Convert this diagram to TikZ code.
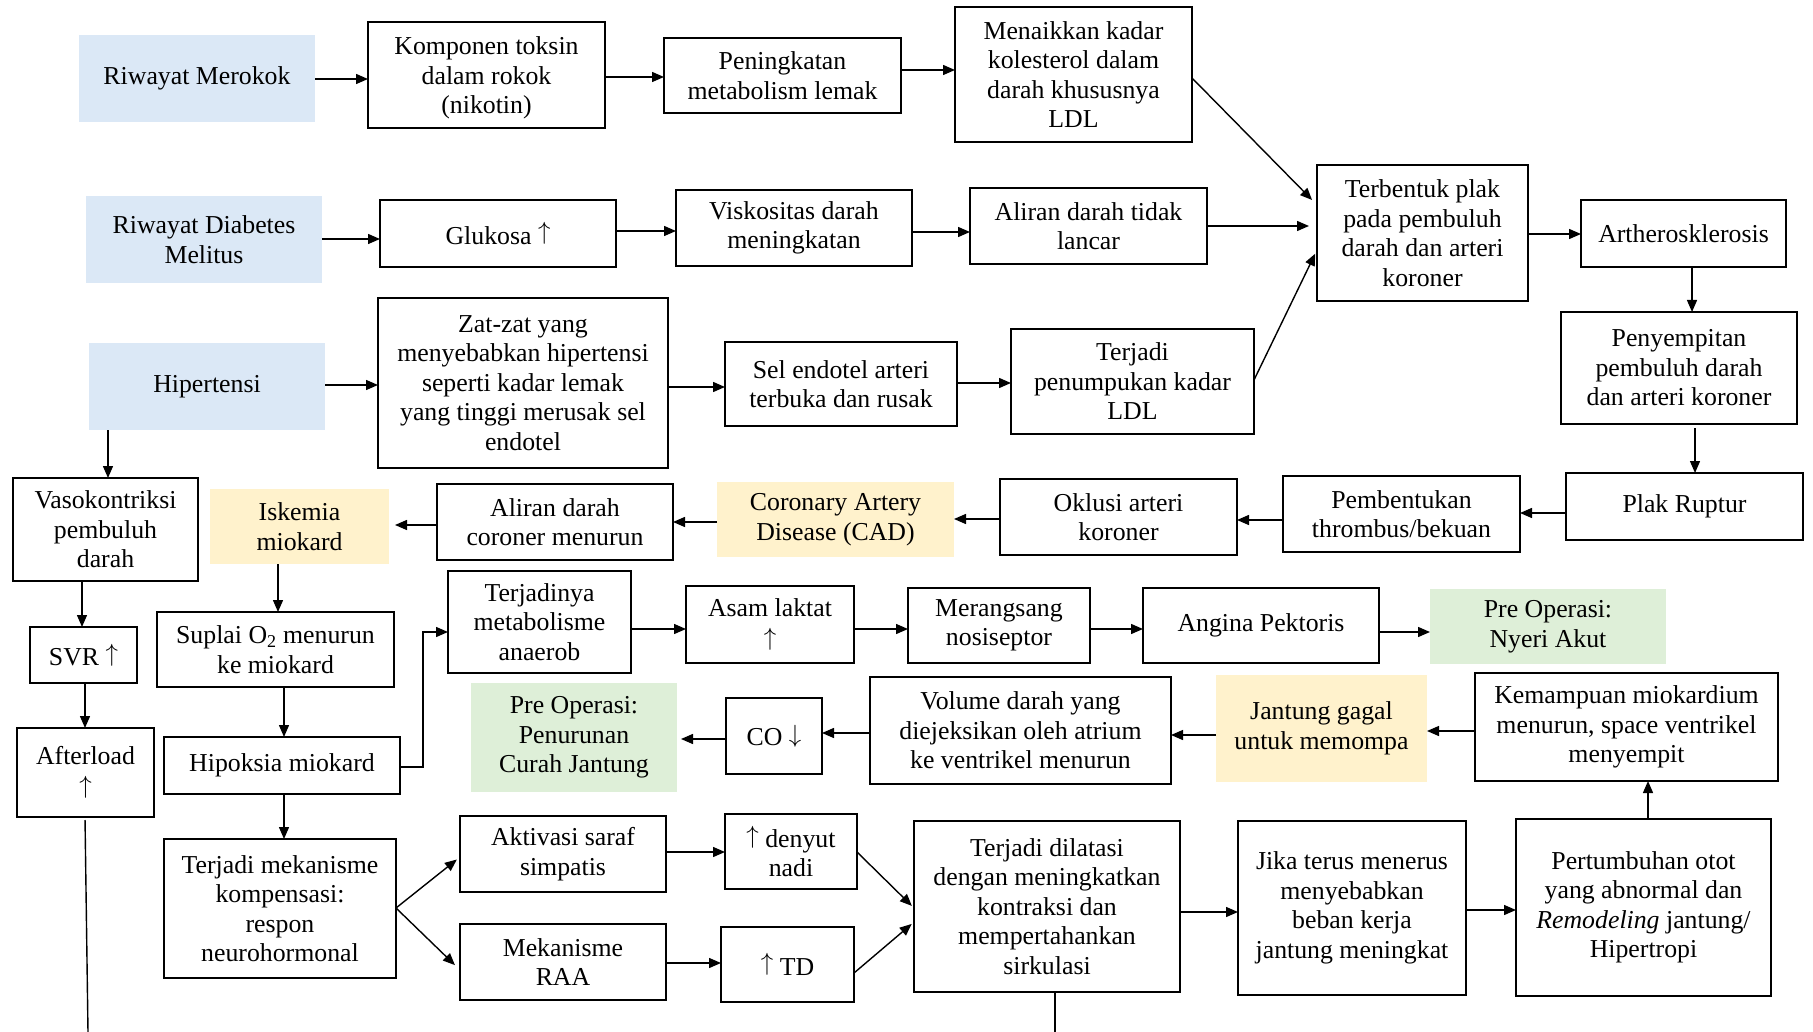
\documentclass[tikz,border=0pt]{standalone}
\usepackage{fontspec}
\setmainfont{Liberation Serif}
\usetikzlibrary{arrows.meta,calc}
\definecolor{riskblue}{HTML}{DBE8F6}
\definecolor{diagyellow}{HTML}{FFF2CC}
\definecolor{nursegreen}{HTML}{DEEFD8}
% thin tall arrows used inside the labels
\newcommand{\uparr}{\raisebox{0.17em}{$\uparrow$}}
\newcommand{\downarr}{\raisebox{0.12em}{$\downarrow$}}
\begin{document}
\begin{tikzpicture}[x=1pt,y=-1pt,
  every node/.style={font=\fontsize{25.8}{29.5}\selectfont, align=center, inner sep=0pt, outer sep=0pt},
  box/.style={draw, line width=1.5pt},
  risk/.style={fill=riskblue},
  diag/.style={fill=diagyellow},
  nurse/.style={fill=nursegreen},
  arr/.style={-{Triangle[length=12pt,width=10pt]}, line width=1.4pt},
  link/.style={line width=1.4pt}]
\useasboundingbox (0,0) rectangle (1813,1032);

% ---- row 1: smoking
\node[risk, minimum width=236pt, minimum height=87pt] (merokok) at (197,78.5) {Riwayat Merokok};
\node[box, minimum width=237pt, minimum height=106pt] (komponen) at (486.5,75) {\rule{0pt}{24pt}Komponen toksin\\dalam rokok\\(nikotin)};
\node[box, minimum width=237pt, minimum height=75pt] (peningkatan) at (782.5,75.5) {Peningkatan\\metabolism lemak};
\node[box, minimum width=237pt, minimum height=135pt] (menaikkan) at (1073.5,74.5) {Menaikkan kadar\\kolesterol dalam\\darah khususnya\\LDL};

% ---- row 2: diabetes
\node[risk, minimum width=236pt, minimum height=87pt] (diabetes) at (204,239.5) {Riwayat Diabetes\\Melitus};
\node[box, minimum width=236pt, minimum height=67pt] (glukosa) at (498,233.5) {Glukosa \uparr};
\node[box, minimum width=236pt, minimum height=76pt] (viskositas) at (794,228) {Viskositas darah\\meningkatan};
\node[box, minimum width=237pt, minimum height=76pt] (aliran) at (1088.5,226) {Aliran darah tidak\\lancar};
\node[box, minimum width=211pt, minimum height=136pt] (terbentuk) at (1422.5,233) {Terbentuk plak\\pada pembuluh\\darah dan arteri\\koroner};
\node[box, minimum width=205pt, minimum height=67pt] (arth) at (1683.5,233.5) {Artherosklerosis};

% ---- row 3: hypertension
\node[risk, minimum width=236pt, minimum height=87pt] (hipertensi) at (207,386.5) {Hipertensi};
\node[box, minimum width=290pt, minimum height=170pt] (zat) at (523,383) {Zat-zat yang\\menyebabkan hipertensi\\seperti kadar lemak\\yang tinggi merusak sel\\endotel};
\node[box, minimum width=232pt, minimum height=84pt] (sel) at (841,384) {Sel endotel arteri\\terbuka dan rusak};
\node[box, minimum width=243pt, minimum height=105pt] (penumpukan) at (1132.5,381.5) {Terjadi\\penumpukan kadar\\LDL};
\node[box, minimum width=236pt, minimum height=112pt] (penyempitan) at (1679,368) {Penyempitan\\pembuluh darah\\dan arteri koroner};

% ---- row 4: back towards ischemia
\node[box, minimum width=237pt, minimum height=67pt] (plak) at (1684.5,506.5) {Plak Ruptur};
\node[box, minimum width=237pt, minimum height=76pt] (pembentukan) at (1401.5,514) {Pembentukan\\thrombus/bekuan};
\node[box, minimum width=237pt, minimum height=76pt] (oklusi) at (1118.5,517) {Oklusi arteri\\koroner};
\node[diag, minimum width=237pt, minimum height=75pt] (cad) at (835.5,519.5) {Coronary Artery\\Disease (CAD)};
\node[box, minimum width=236pt, minimum height=76pt] (alirancor) at (555,522) {Aliran darah\\coroner menurun};
\node[diag, minimum width=179pt, minimum height=75pt] (iskemia) at (299.5,526.5) {Iskemia\\miokard};
\node[box, minimum width=185pt, minimum height=103pt] (vaso) at (105.5,529.5) {Vasokontriksi\\pembuluh\\darah};

% ---- left column and hypoxia chain
\node[box, minimum width=107pt, minimum height=56pt] (svr) at (83.5,655) {SVR \uparr};
\node[box, minimum width=137pt, minimum height=89pt] (afterload) at (85.5,772.5) {Afterload\\$\uparrow$};
\node[box, minimum width=237pt, minimum height=75pt] (suplai) at (275.5,649.5) {Suplai O\textsubscript{2} menurun\\ke miokard};
\node[box, minimum width=236pt, minimum height=57pt] (hipoksia) at (282,765.5) {Hipoksia miokard};
\node[box, minimum width=183pt, minimum height=102pt] (anaerob) at (539.5,622) {Terjadinya\\metabolisme\\anaerob};
\node[box, minimum width=168pt, minimum height=77pt] (asam) at (770,624.5) {Asam laktat\\$\uparrow$};
\node[box, minimum width=182pt, minimum height=75pt] (merangsang) at (999,625.5) {Merangsang\\nosiseptor};
\node[box, minimum width=236pt, minimum height=75pt] (angina) at (1261,625.5) {Angina Pektoris};
\node[nurse, minimum width=236pt, minimum height=75pt] (nyeri) at (1548,626.5) {Pre Operasi:\\Nyeri Akut};

% ---- cardiac output row
\node[nurse, minimum width=206pt, minimum height=109pt] (penurunan) at (574,737.5) {Pre Operasi:\\Penurunan\\Curah Jantung};
\node[box, minimum width=96pt, minimum height=76pt] (co) at (774,736) {CO \downarr};
\node[box, minimum width=301pt, minimum height=107pt] (volume) at (1020.5,730.5) {Volume darah yang\\diejeksikan oleh atrium\\ke ventrikel menurun};
\node[diag, minimum width=211pt, minimum height=107pt] (jantung) at (1321.5,728.5) {Jantung gagal\\untuk memompa};
\node[box, minimum width=303pt, minimum height=108pt] (kemampuan) at (1626.5,727) {Kemampuan miokardium\\menurun, space ventrikel\\menyempit};

% ---- compensation row
\node[box, minimum width=232pt, minimum height=139pt] (mekanisme) at (280,908.5) {Terjadi mekanisme\\kompensasi:\\respon\\neurohormonal};
\node[box, minimum width=206pt, minimum height=76pt] (aktivasi) at (563,854) {Aktivasi saraf\\simpatis};
\node[box, minimum width=206pt, minimum height=76pt] (raa) at (563,962) {Mekanisme\\RAA};
\node[box, minimum width=132pt, minimum height=75pt] (denyut) at (791,851.5) {\uparr{} denyut\\nadi};
\node[box, minimum width=133pt, minimum height=75pt] (td) at (787.5,964.5) {\uparr{} TD};
\node[box, minimum width=266pt, minimum height=171pt] (dilatasi) at (1047,906.5) {Terjadi dilatasi\\dengan meningkatkan\\kontraksi dan\\mempertahankan\\sirkulasi};
\node[box, minimum width=228pt, minimum height=174pt] (jika) at (1352,908) {Jika terus menerus\\menyebabkan\\beban kerja\\jantung meningkat};
\node[box, minimum width=255pt, minimum height=177pt] (pertumbuhan) at (1643.5,907.5) {Pertumbuhan otot\\yang abnormal dan\\\textit{Remodeling} jantung/\\Hipertropi};

\coordinate (afterend) at (88,1032);
\coordinate (dilend) at (1055,1032);

% ---- connectors, left to right
\draw[arr] (merokok.east |- 0,79) -- (komponen.west |- 0,79);
\draw[arr] (komponen.east |- 0,77) -- (peningkatan.west |- 0,77);
\draw[arr] (peningkatan.east |- 0,70) -- (menaikkan.west |- 0,70);
\draw[arr] (diabetes.east |- 0,239) -- (glukosa.west |- 0,239);
\draw[arr] (glukosa.east |- 0,231) -- (viskositas.west |- 0,231);
\draw[arr] (viskositas.east |- 0,232) -- (aliran.west |- 0,232);
\draw[arr, shorten >=8pt] (aliran.east |- 0,226) -- (terbentuk.west |- 0,226);
\draw[arr, shorten >=7pt] (menaikkan.east |- 0,78) -- (terbentuk.west |- 0,205);
\draw[arr, shorten >=4pt] (penumpukan.east |- 0,380) -- (terbentuk.west |- 0,250);
\draw[arr] (terbentuk.east |- 0,234) -- (arth.west |- 0,234);
\draw[arr] (hipertensi.east |- 0,385) -- (zat.west |- 0,385);
\draw[arr] (zat.east |- 0,387) -- (sel.west |- 0,387);
\draw[arr] (sel.east |- 0,383) -- (penumpukan.west |- 0,383);
\draw[arr] (anaerob.east |- 0,629) -- (asam.west |- 0,629);
\draw[arr] (asam.east |- 0,629) -- (merangsang.west |- 0,629);
\draw[arr] (merangsang.east |- 0,629) -- (angina.west |- 0,629);
\draw[arr] (angina.east |- 0,632) -- (nyeri.west |- 0,632);
\draw[arr] (aktivasi.east |- 0,852) -- (denyut.west |- 0,852);
\draw[arr] (raa.east |- 0,963) -- (td.west |- 0,963);
\draw[arr] (dilatasi.east |- 0,912) -- (jika.west |- 0,912);
\draw[arr] (jika.east |- 0,910) -- (pertumbuhan.west |- 0,910);

% ---- connectors, right to left
\draw[arr] (plak.west |- 0,513) -- (pembentukan.east |- 0,513);
\draw[arr] (pembentukan.west |- 0,520) -- (oklusi.east |- 0,520);
\draw[arr] (oklusi.west |- 0,519) -- (cad.east |- 0,519);
\draw[arr] (cad.west |- 0,522) -- (alirancor.east |- 0,522);
\draw[arr, shorten >=6pt] (alirancor.west |- 0,525) -- (iskemia.east |- 0,525);
\draw[arr] (kemampuan.west |- 0,731) -- (jantung.east |- 0,731);
\draw[arr] (jantung.west |- 0,735) -- (volume.east |- 0,735);
\draw[arr] (volume.west |- 0,733) -- (co.east |- 0,733);
\draw[arr, shorten >=4pt] (co.west |- 0,739) -- (penurunan.east |- 0,739);

% ---- vertical connectors
\draw[arr] (hipertensi.south -| 108,0) -- (vaso.north -| 108,0);
\draw[arr] (vaso.south -| 82,0) -- (svr.north -| 82,0);
\draw[arr] (svr.south -| 85,0) -- (afterload.north -| 85,0);
\draw[arr] (iskemia.south -| 278,0) -- (suplai.north -| 278,0);
\draw[arr] (suplai.south -| 284,0) -- (hipoksia.north -| 284,0);
\draw[arr] (hipoksia.south -| 284,0) -- (mekanisme.north -| 284,0);
\draw[arr] (arth.south -| 1692,0) -- (penyempitan.north -| 1692,0);
\draw[arr, shorten <=4pt] (penyempitan.south -| 1695,0) -- (plak.north -| 1695,0);
\draw[arr] (pertumbuhan.north -| 1648,0) -- (kemampuan.south -| 1648,0);

% ---- elbow and diagonal connectors
\draw[arr] (hipoksia.east |- 0,767) -- ++(23,0) |- (anaerob.west |- 0,632);
\draw[arr, shorten >=4pt] (mekanisme.east |- 0,908) -- (aktivasi.west |- 0,857);
\draw[arr, shorten >=7pt] (mekanisme.east |- 0,908) -- (raa.west |- 0,970);
\draw[arr, shorten >=3pt] (denyut.east |- 0,852) -- (dilatasi.west |- 0,908);
\draw[arr, shorten >=3pt] (td.east |- 0,973) -- (dilatasi.west |- 0,922);

% ---- open-ended lines
\draw[link, shorten <=3pt] (afterload.south -| 85,0) -- (afterend);
\draw[link] (dilatasi.south -| 1055,0) -- (dilend);
\end{tikzpicture}
\end{document}
